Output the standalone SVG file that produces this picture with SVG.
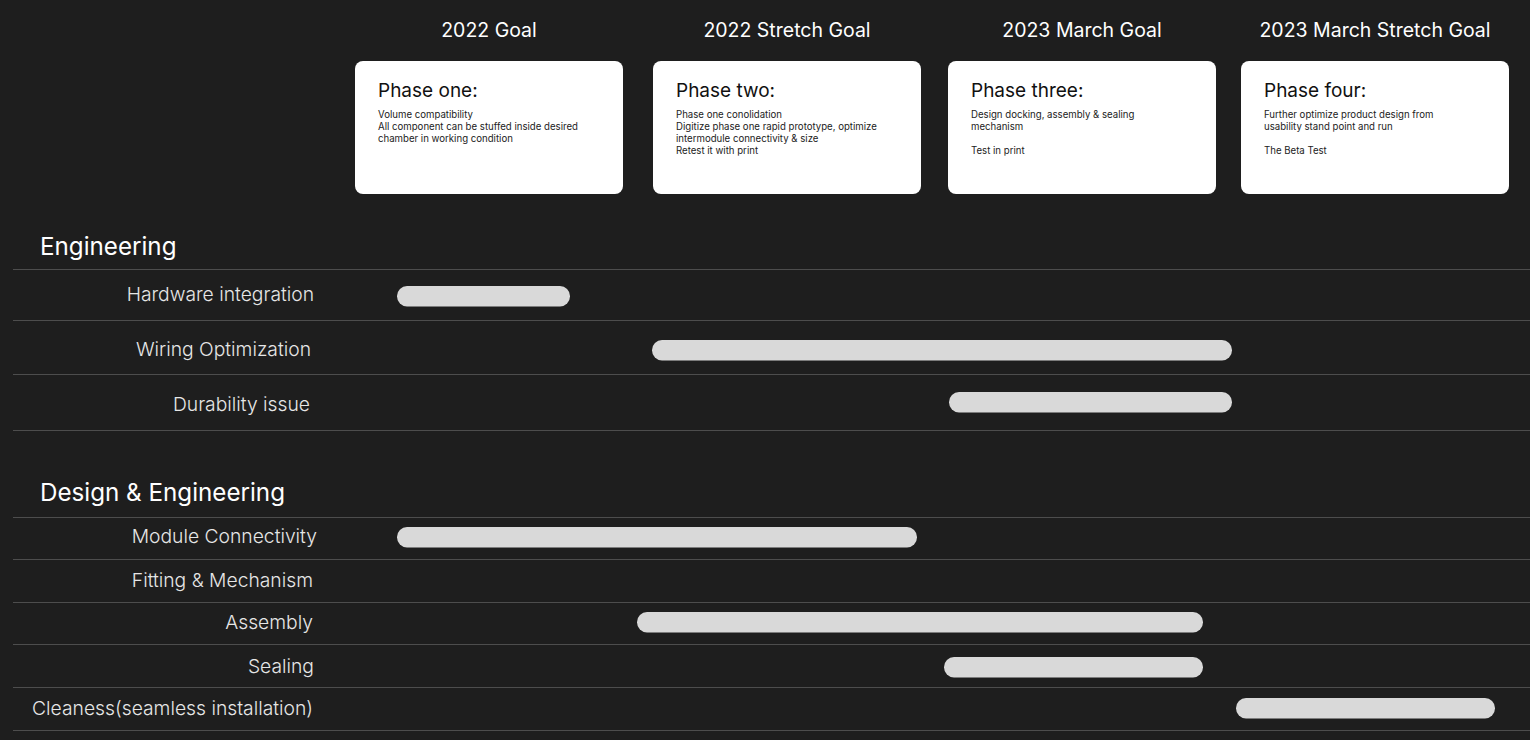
<svg xmlns="http://www.w3.org/2000/svg" width="1530" height="740" viewBox="0 0 1530 740">
<style>
.bg{fill:#1e1e1e}
.hdr{font-family:Inter,"Noto Sans","Liberation Sans",sans-serif;font-size:19.5px;fill:#ffffff;text-anchor:middle}
.card{fill:#ffffff}
.ttl{font-family:Inter,"Noto Sans","Liberation Sans",sans-serif;font-size:19px;fill:#111111}
.body{font-family:Inter,"Noto Sans","Liberation Sans",sans-serif;font-size:9.65px;fill:#222222}
.sec{font-family:Inter,"Noto Sans","Liberation Sans",sans-serif;font-size:24.2px;fill:#ffffff}
.lbl{font-family:Inter,"Noto Sans","Liberation Sans",sans-serif;font-size:19.3px;font-weight:300;fill:#e6e6e6;text-anchor:end}
.rule{stroke:#4d4d4d;stroke-width:1.2}
.bar{fill:#d9d9d9}
</style>
<rect class="bg" x="0" y="0" width="1530" height="740"/>

<g id="headers">
<text class="hdr" x="489" y="37">2022 Goal</text>
<text class="hdr" x="787" y="37">2022 Stretch Goal</text>
<text class="hdr" x="1082" y="37">2023 March Goal</text>
<text class="hdr" x="1375" y="37">2023 March Stretch Goal</text>
</g>

<g id="phase-one">
<rect class="card" x="355" y="61" width="268" height="133" rx="8"/>
<text class="ttl" x="378" y="97">Phase one:</text>
<text class="body" x="378" y="118">Volume compatibility</text>
<text class="body" x="378" y="130">All component can be stuffed inside desired</text>
<text class="body" x="378" y="142">chamber in working condition</text>
</g>
<g id="phase-two">
<rect class="card" x="653" y="61" width="268" height="133" rx="8"/>
<text class="ttl" x="676" y="97">Phase two:</text>
<text class="body" x="676" y="118">Phase one conolidation</text>
<text class="body" x="676" y="130">Digitize phase one rapid prototype, optimize</text>
<text class="body" x="676" y="142">intermodule connectivity &amp; size</text>
<text class="body" x="676" y="154">Retest it with print</text>
</g>
<g id="phase-three">
<rect class="card" x="948" y="61" width="268" height="133" rx="8"/>
<text class="ttl" x="971" y="97">Phase three:</text>
<text class="body" x="971" y="118">Design docking, assembly &amp; sealing</text>
<text class="body" x="971" y="130">mechanism</text>
<text class="body" x="971" y="154">Test in print</text>
</g>
<g id="phase-four">
<rect class="card" x="1241" y="61" width="268" height="133" rx="8"/>
<text class="ttl" x="1264" y="97">Phase four:</text>
<text class="body" x="1264" y="118">Further optimize product design from</text>
<text class="body" x="1264" y="130">usability stand point and run</text>
<text class="body" x="1264" y="154">The Beta Test</text>
</g>

<g id="sections">
<text class="sec" x="40" y="255">Engineering</text>
<text class="sec" x="40" y="501">Design &amp; Engineering</text>
</g>

<g id="rules">
<line class="rule" x1="13" y1="269.5" x2="1530" y2="269.5"/>
<line class="rule" x1="13" y1="320.5" x2="1530" y2="320.5"/>
<line class="rule" x1="13" y1="374.5" x2="1530" y2="374.5"/>
<line class="rule" x1="13" y1="430.5" x2="1530" y2="430.5"/>
<line class="rule" x1="13" y1="517.5" x2="1530" y2="517.5"/>
<line class="rule" x1="13" y1="559.5" x2="1530" y2="559.5"/>
<line class="rule" x1="13" y1="602.5" x2="1530" y2="602.5"/>
<line class="rule" x1="13" y1="644.5" x2="1530" y2="644.5"/>
<line class="rule" x1="13" y1="687.5" x2="1530" y2="687.5"/>
<line class="rule" x1="13" y1="730.5" x2="1530" y2="730.5"/>
</g>

<g id="row-hardware">
<text class="lbl" x="314" y="301">Hardware integration</text>
<rect class="bar" x="397" y="286" width="173" height="20.5" rx="10"/>
</g>
<g id="row-wiring">
<text class="lbl" x="311" y="356">Wiring Optimization</text>
<rect class="bar" x="652" y="340" width="580" height="20.5" rx="10"/>
</g>
<g id="row-durability">
<text class="lbl" x="310" y="411">Durability issue</text>
<rect class="bar" x="949" y="392" width="283" height="20.5" rx="10"/>
</g>
<g id="row-module">
<text class="lbl" x="317" y="543">Module Connectivity</text>
<rect class="bar" x="397" y="527" width="520" height="20.5" rx="10"/>
</g>
<g id="row-fitting">
<text class="lbl" x="313" y="587">Fitting &amp; Mechanism</text>
</g>
<g id="row-assembly">
<text class="lbl" x="313" y="629">Assembly</text>
<rect class="bar" x="637" y="612" width="566" height="20.5" rx="10"/>
</g>
<g id="row-sealing">
<text class="lbl" x="314" y="673">Sealing</text>
<rect class="bar" x="944" y="657" width="259" height="20.5" rx="10"/>
</g>
<g id="row-cleaness">
<text class="lbl" x="313" y="715">Cleaness(seamless installation)</text>
<rect class="bar" x="1236" y="698" width="259" height="20.5" rx="10"/>
</g>
</svg>
